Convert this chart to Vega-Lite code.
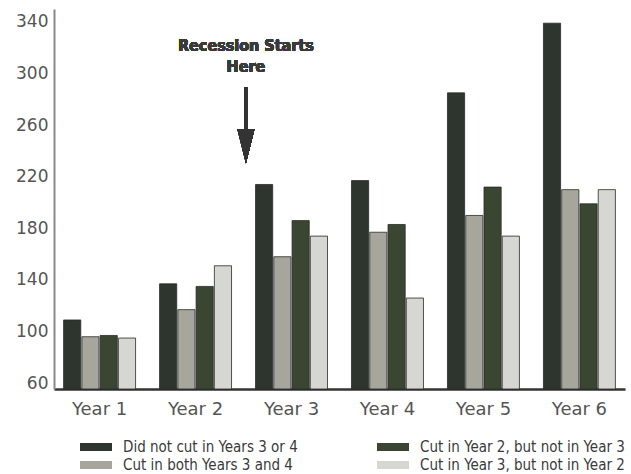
{
  "$schema": "https://vega.github.io/schema/vega-lite/v6.json",
  "width": 571,
  "height": 380,
  "autosize": "none",
  "padding": {"left": 54, "top": 9, "right": 6, "bottom": 85},
  "background": "white",
  "config": {"view": {"stroke": null}},
  "data": {
    "values": [
      {"year": "Year 1", "group": "Did not cut in Years 3 or 4", "value": 109},
      {"year": "Year 1", "group": "Cut in both Years 3 and 4", "value": 96},
      {"year": "Year 1", "group": "Cut in Year 2, but not in Year 3", "value": 97},
      {"year": "Year 1", "group": "Cut in Year 3, but not in Year 2", "value": 95},
      {"year": "Year 2", "group": "Did not cut in Years 3 or 4", "value": 137},
      {"year": "Year 2", "group": "Cut in both Years 3 and 4", "value": 117},
      {"year": "Year 2", "group": "Cut in Year 2, but not in Year 3", "value": 135},
      {"year": "Year 2", "group": "Cut in Year 3, but not in Year 2", "value": 151},
      {"year": "Year 3", "group": "Did not cut in Years 3 or 4", "value": 214},
      {"year": "Year 3", "group": "Cut in both Years 3 and 4", "value": 158},
      {"year": "Year 3", "group": "Cut in Year 2, but not in Year 3", "value": 186},
      {"year": "Year 3", "group": "Cut in Year 3, but not in Year 2", "value": 174},
      {"year": "Year 4", "group": "Did not cut in Years 3 or 4", "value": 217},
      {"year": "Year 4", "group": "Cut in both Years 3 and 4", "value": 177},
      {"year": "Year 4", "group": "Cut in Year 2, but not in Year 3", "value": 183},
      {"year": "Year 4", "group": "Cut in Year 3, but not in Year 2", "value": 126},
      {"year": "Year 5", "group": "Did not cut in Years 3 or 4", "value": 285},
      {"year": "Year 5", "group": "Cut in both Years 3 and 4", "value": 190},
      {"year": "Year 5", "group": "Cut in Year 2, but not in Year 3", "value": 212},
      {"year": "Year 5", "group": "Cut in Year 3, but not in Year 2", "value": 174},
      {"year": "Year 6", "group": "Did not cut in Years 3 or 4", "value": 339},
      {"year": "Year 6", "group": "Cut in both Years 3 and 4", "value": 210},
      {"year": "Year 6", "group": "Cut in Year 2, but not in Year 3", "value": 199},
      {"year": "Year 6", "group": "Cut in Year 3, but not in Year 2", "value": 210}
    ]
  },
  "layer": [
    {
      "mark": {"type": "bar", "stroke": "#2a2a2a", "strokeWidth": 0.8},
      "encoding": {
        "x": {
          "field": "year", "type": "nominal",
          "scale": {"paddingInner": 0.25, "paddingOuter": 0.1},
          "axis": {
            "title": null, "labelAngle": 0, "labelFontSize": 18, "labelColor": "#555",
            "labelFont": "DejaVu Sans", "labelPadding": 11, "ticks": false,
            "domainColor": "#333", "domainWidth": 2.5
          }
        },
        "xOffset": {
          "field": "group", "type": "nominal",
          "sort": ["Did not cut in Years 3 or 4", "Cut in both Years 3 and 4", "Cut in Year 2, but not in Year 3", "Cut in Year 3, but not in Year 2"],
          "scale": {"paddingInner": 0.06}
        },
        "y": {
          "field": "value", "type": "quantitative",
          "scale": {"domain": [55.5, 350], "nice": false, "zero": false},
          "axis": {
            "title": null, "values": [60, 100, 140, 180, 220, 260, 300, 340],
            "grid": false, "ticks": false, "labelFontSize": 17, "labelColor": "#555",
            "labelFont": "DejaVu Sans", "labelPadding": 6, "domainColor": "#888", "domainWidth": 2
          }
        },
        "y2": {"datum": 55.5},
        "color": {
          "field": "group", "type": "nominal",
          "scale": {
            "domain": ["Did not cut in Years 3 or 4", "Cut in both Years 3 and 4", "Cut in Year 2, but not in Year 3", "Cut in Year 3, but not in Year 2"],
            "range": ["#2e352e", "#a6a69c", "#3a4632", "#d6d6d2"]
          },
          "legend": {
            "title": null, "orient": "none", "legendX": 34, "legendY": 430,
            "columns": 2, "columnPadding": 79, "rowPadding": 2,
            "symbolType": "M-2,-0.5H2V0.5H-2Z", "symbolSize": 256, "symbolStrokeWidth": 0,
            "labelFontSize": 15, "labelFont": "DejaVu Sans Condensed, Liberation Sans, sans-serif", "labelColor": "#3a3a3a",
            "labelOffset": 19, "labelLimit": 300
          }
        }
      }
    },
    {
      "mark": {"type": "text", "fontSize": 16, "font": "DejaVu Sans Condensed, Liberation Sans, sans-serif", "fontWeight": "bold", "color": "#3a3a3a", "lineBreak": "\n", "lineHeight": 21, "baseline": "middle"},
      "encoding": {
        "x": {"datum": "Year 2", "type": "nominal", "bandPosition": 1.2},
        "y": {"datum": 321.5, "type": "quantitative"},
        "text": {"value": "Recession Starts\nHere"}
      }
    },
    {
      "mark": {"type": "rule", "color": "#333", "strokeWidth": 3},
      "encoding": {
        "x": {"datum": "Year 2", "type": "nominal", "bandPosition": 1.2},
        "y": {"datum": 289, "type": "quantitative"},
        "y2": {"datum": 252}
      }
    },
    {
      "mark": {"type": "point", "shape": "M-1,-2L1,-2L0,2Z", "filled": true, "color": "#333", "size": 289, "opacity": 1},
      "encoding": {
        "x": {"datum": "Year 2", "type": "nominal", "bandPosition": 1.2},
        "y": {"datum": 243.6, "type": "quantitative"}
      }
    }
  ]
}
